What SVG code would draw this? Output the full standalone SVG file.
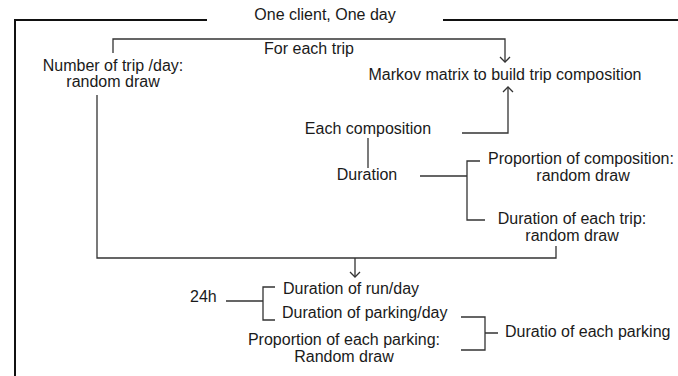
<svg xmlns="http://www.w3.org/2000/svg" width="678" height="376" viewBox="0 0 678 376">
<style>
text{font-family:"Liberation Sans",Arial,sans-serif;font-size:16px;fill:#1a1a1a}
.m{text-anchor:middle}
.ln{fill:none;stroke:#333;stroke-width:1.3}
.fr{fill:none;stroke:#111;stroke-width:2}
</style>
<rect width="678" height="376" fill="#fff"/>
<g id="frame">
<path class="fr" d="M15,376 V20 H207 M443,20 H678"/>
<text class="m" x="325" y="20">One client, One day</text>
</g>
<g id="connectors">
<path class="ln" d="M113,53 V39 H505 V62"/>
<path class="ln" d="M462,133 H508 V87"/>
<path class="ln" d="M368,138 V168"/>
<path class="ln" d="M420,176 H467 M480,161 H467 V220 H485"/>
<path class="ln" d="M97,95 V258 H556 V246 M355,258 V277"/>
<path class="ln" d="M226,301 H263 M275,287 H263 V320 H275"/>
<path class="ln" d="M461,317 H485 V350 H461 M485,333 H498"/>
<path class="ln" d="M500,57 L505,62 L510,57 M503,92 L508,87 L513,92 M350,272 L355,277 L360,272"/>
</g>
<g id="n-trips"><text class="m" x="113" y="71">Number of trip /day:</text><text class="m" x="113" y="87">random draw</text></g>
<g id="n-foreach"><text class="m" x="309" y="54">For each trip</text></g>
<g id="n-markov"><text class="m" x="505" y="80">Markov matrix to build trip composition</text></g>
<g id="n-eachcomp"><text class="m" x="368" y="134">Each composition</text></g>
<g id="n-duration"><text class="m" x="367" y="180">Duration</text></g>
<g id="n-propcomp"><text x="488" y="164">Proportion of composition:</text><text class="m" x="583" y="181">random draw</text></g>
<g id="n-durtrip"><text class="m" x="572" y="224">Duration of each trip:</text><text class="m" x="572" y="241">random draw</text></g>
<g id="n-24h"><text x="190" y="302">24h</text></g>
<g id="n-run"><text x="283" y="294">Duration of run/day</text></g>
<g id="n-park"><text x="282" y="318">Duration of parking/day</text></g>
<g id="n-propparking"><text class="m" x="344" y="345">Proportion of each parking:</text><text class="m" x="344" y="362">Random draw</text></g>
<g id="n-durparking"><text x="505" y="337">Duratio of each parking</text></g>
</svg>
